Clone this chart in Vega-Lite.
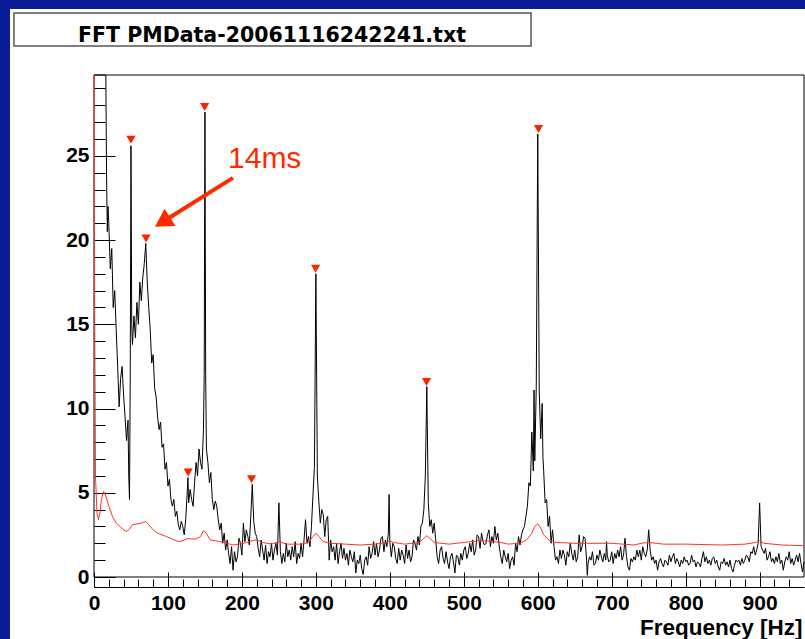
{
  "$schema": "https://vega.github.io/schema/vega-lite/v6.json",
  "width": 795,
  "height": 630,
  "autosize": "none",
  "padding": {"left": 10, "top": 9, "right": 0, "bottom": 0},
  "background": "#0b1c96",
  "view": {"fill": "white", "stroke": null},
  "config": {
    "axis": {"labelFont": "Liberation Sans", "labelFontWeight": "bold", "labelFontSize": 21, "labelColor": "black", "tickColor": "black", "domainColor": "black", "grid": false, "tickWidth": 1, "domainWidth": 1}
  },
  "datasets": {
    "spectrum": [
      {"f":0,"a":29.8},{"f":2,"a":29.8},{"f":4,"a":29.8},{"f":6,"a":29.8},{"f":8,"a":29.8},{"f":10,"a":29.8},{"f":12,"a":29.8},{"f":14,"a":29.8},{"f":16,"a":29.8},{"f":17,"a":23.8},{"f":18,"a":20.5},{"f":19,"a":22},{"f":20,"a":21},{"f":22,"a":18.3},{"f":24,"a":19.5},{"f":26,"a":16},{"f":28,"a":17},{"f":30,"a":14.7},{"f":32,"a":12.5},{"f":34,"a":10.1},{"f":36,"a":11.8},{"f":38,"a":12.5},{"f":40,"a":10.8},{"f":42,"a":9.5},{"f":44,"a":8.1},{"f":46,"a":9.3},{"f":47,"a":6},{"f":48,"a":4.6},{"f":49,"a":12},{"f":50,"a":25.6},{"f":51,"a":15},{"f":52,"a":13.8},{"f":54,"a":15.5},{"f":56,"a":14.2},{"f":58,"a":16.3},{"f":60,"a":15},{"f":62,"a":17.5},{"f":64,"a":16.4},{"f":66,"a":17.8},{"f":68,"a":18.6},{"f":70,"a":19.8},{"f":72,"a":17.5},{"f":74,"a":16},{"f":76,"a":14.7},{"f":78,"a":12.7},{"f":80,"a":13.2},{"f":82,"a":11.2},{"f":84,"a":10.7},{"f":86,"a":9.5},{"f":88,"a":8.75},{"f":90,"a":9.2},{"f":92,"a":7.7},{"f":94,"a":7.9},{"f":96,"a":6.4},{"f":98,"a":6.8},{"f":100,"a":5.4},{"f":102,"a":5.8},{"f":104,"a":4.6},{"f":106,"a":4.2},{"f":108,"a":4.6},{"f":110,"a":3.6},{"f":112,"a":3.9},{"f":114,"a":3.1},{"f":116,"a":2.8},{"f":118,"a":3.3},{"f":120,"a":3.0},{"f":122,"a":2.5},{"f":124,"a":3.4},{"f":126,"a":5.0},{"f":127,"a":5.9},{"f":128,"a":4.4},{"f":130,"a":5.2},{"f":132,"a":4.6},{"f":134,"a":4.2},{"f":136,"a":5.6},{"f":138,"a":6.8},{"f":140,"a":6.0},{"f":142,"a":7.6},{"f":144,"a":6.8},{"f":146,"a":6.4},{"f":148,"a":8.75},{"f":149,"a":12},{"f":150,"a":27.6},{"f":151,"a":12},{"f":152,"a":7.6},{"f":154,"a":6.8},{"f":156,"a":5.6},{"f":158,"a":6.2},{"f":160,"a":4.6},{"f":162,"a":4.0},{"f":164,"a":4.5},{"f":166,"a":4.2},{"f":168,"a":3.4},{"f":170,"a":2.8},{"f":172,"a":3.2},{"f":174,"a":2.0},{"f":176,"a":2.6},{"f":178,"a":1.6},{"f":180,"a":2.2},{"f":182,"a":1.4},{"f":184,"a":0.8},{"f":186,"a":1.8},{"f":188,"a":0.4},{"f":190,"a":1.5},{"f":192,"a":0.9},{"f":194,"a":1.2},{"f":196,"a":2.3},{"f":198,"a":2.0},{"f":200,"a":1.3},{"f":202,"a":3.2},{"f":204,"a":2.1},{"f":206,"a":2.8},{"f":208,"a":2.4},{"f":210,"a":1.9},{"f":212,"a":3.6},{"f":214,"a":5.5},{"f":216,"a":3.3},{"f":218,"a":2.6},{"f":220,"a":2.4},{"f":222,"a":1.7},{"f":224,"a":1.2},{"f":226,"a":2.2},{"f":228,"a":1.6},{"f":230,"a":1.0},{"f":232,"a":1.9},{"f":234,"a":0.8},{"f":236,"a":1.5},{"f":238,"a":1.2},{"f":240,"a":2.0},{"f":242,"a":1.0},{"f":244,"a":1.6},{"f":246,"a":2.0},{"f":248,"a":1.3},{"f":250,"a":4.4},{"f":252,"a":1.5},{"f":254,"a":0.8},{"f":256,"a":1.4},{"f":258,"a":0.9},{"f":260,"a":2.0},{"f":262,"a":1.2},{"f":264,"a":1.6},{"f":266,"a":1.0},{"f":268,"a":1.8},{"f":270,"a":1.2},{"f":272,"a":2.1},{"f":274,"a":0.8},{"f":276,"a":1.4},{"f":278,"a":1.1},{"f":280,"a":2.0},{"f":282,"a":1.2},{"f":284,"a":2.2},{"f":286,"a":3.4},{"f":288,"a":2.0},{"f":290,"a":2.4},{"f":292,"a":1.8},{"f":294,"a":3.0},{"f":296,"a":4.8},{"f":298,"a":6.5},{"f":300,"a":18.0},{"f":302,"a":6.0},{"f":304,"a":4.5},{"f":306,"a":3.2},{"f":308,"a":4.0},{"f":310,"a":3.7},{"f":312,"a":2.4},{"f":314,"a":3.4},{"f":316,"a":3.6},{"f":318,"a":1.0},{"f":320,"a":2.2},{"f":322,"a":1.5},{"f":324,"a":1.8},{"f":326,"a":1.0},{"f":328,"a":2.0},{"f":330,"a":0.8},{"f":332,"a":1.5},{"f":334,"a":2.0},{"f":336,"a":1.1},{"f":338,"a":1.7},{"f":340,"a":1.0},{"f":342,"a":1.4},{"f":344,"a":0.7},{"f":346,"a":1.6},{"f":348,"a":1.2},{"f":350,"a":0.9},{"f":352,"a":1.5},{"f":354,"a":0.24},{"f":356,"a":1.0},{"f":358,"a":0.8},{"f":360,"a":1.3},{"f":362,"a":0.5},{"f":364,"a":0.15},{"f":366,"a":1.0},{"f":368,"a":1.2},{"f":370,"a":0.7},{"f":372,"a":1.8},{"f":374,"a":1.1},{"f":376,"a":1.4},{"f":378,"a":2.1},{"f":380,"a":1.3},{"f":382,"a":2.0},{"f":384,"a":1.2},{"f":386,"a":1.6},{"f":388,"a":2.3},{"f":390,"a":2.4},{"f":392,"a":1.5},{"f":394,"a":2.2},{"f":396,"a":1.8},{"f":398,"a":2.6},{"f":399,"a":4.9},{"f":400,"a":2.1},{"f":402,"a":1.2},{"f":404,"a":2.0},{"f":406,"a":1.8},{"f":408,"a":1.1},{"f":410,"a":0.8},{"f":412,"a":1.7},{"f":414,"a":1.0},{"f":416,"a":1.6},{"f":418,"a":1.3},{"f":420,"a":0.8},{"f":422,"a":1.9},{"f":424,"a":1.1},{"f":426,"a":1.6},{"f":428,"a":0.9},{"f":430,"a":1.2},{"f":432,"a":2.2},{"f":434,"a":2.0},{"f":436,"a":1.6},{"f":438,"a":2.4},{"f":440,"a":1.9},{"f":442,"a":3.0},{"f":444,"a":3.2},{"f":446,"a":4.0},{"f":448,"a":6.0},{"f":450,"a":11.3},{"f":452,"a":4.4},{"f":454,"a":3.0},{"f":456,"a":3.4},{"f":458,"a":2.6},{"f":460,"a":3.2},{"f":462,"a":2.2},{"f":464,"a":1.2},{"f":466,"a":0.8},{"f":468,"a":1.6},{"f":470,"a":1.8},{"f":472,"a":1.1},{"f":474,"a":0.8},{"f":476,"a":1.5},{"f":478,"a":0.9},{"f":480,"a":0.5},{"f":482,"a":1.2},{"f":484,"a":1.4},{"f":486,"a":0.9},{"f":488,"a":0.24},{"f":490,"a":1.3},{"f":492,"a":1.2},{"f":494,"a":0.7},{"f":496,"a":1.4},{"f":498,"a":1.0},{"f":500,"a":1.6},{"f":502,"a":1.8},{"f":504,"a":1.1},{"f":506,"a":1.4},{"f":508,"a":2.0},{"f":510,"a":1.5},{"f":512,"a":2.2},{"f":514,"a":1.3},{"f":516,"a":1.6},{"f":518,"a":2.5},{"f":520,"a":2.4},{"f":522,"a":1.7},{"f":524,"a":2.6},{"f":526,"a":2.1},{"f":528,"a":1.9},{"f":530,"a":2.0},{"f":532,"a":2.5},{"f":534,"a":2.8},{"f":536,"a":1.8},{"f":538,"a":2.4},{"f":540,"a":2.0},{"f":542,"a":3.0},{"f":544,"a":2.2},{"f":546,"a":2.6},{"f":548,"a":1.8},{"f":550,"a":1.2},{"f":552,"a":0.8},{"f":554,"a":1.6},{"f":556,"a":1.2},{"f":558,"a":0.9},{"f":560,"a":1.4},{"f":562,"a":0.5},{"f":564,"a":1.0},{"f":566,"a":1.2},{"f":568,"a":0.7},{"f":570,"a":2.0},{"f":572,"a":1.5},{"f":574,"a":2.4},{"f":576,"a":1.9},{"f":578,"a":2.5},{"f":580,"a":2.8},{"f":582,"a":3.0},{"f":584,"a":3.6},{"f":586,"a":4.2},{"f":588,"a":5.6},{"f":590,"a":5.4},{"f":592,"a":8.6},{"f":594,"a":6.3},{"f":595,"a":11.1},{"f":596,"a":6.9},{"f":598,"a":11.3},{"f":600,"a":26.3},{"f":602,"a":11.1},{"f":604,"a":8.2},{"f":606,"a":10.3},{"f":607,"a":7.1},{"f":608,"a":6.3},{"f":610,"a":4.4},{"f":612,"a":4.6},{"f":614,"a":3.0},{"f":616,"a":3.6},{"f":618,"a":2.0},{"f":620,"a":2.8},{"f":622,"a":1.8},{"f":624,"a":1.0},{"f":626,"a":1.2},{"f":628,"a":0.8},{"f":630,"a":1.6},{"f":632,"a":1.1},{"f":634,"a":1.6},{"f":636,"a":1.3},{"f":638,"a":0.7},{"f":640,"a":1.5},{"f":642,"a":1.2},{"f":644,"a":2.0},{"f":646,"a":1.4},{"f":648,"a":1.0},{"f":650,"a":1.6},{"f":652,"a":0.9},{"f":654,"a":1.2},{"f":656,"a":2.5},{"f":658,"a":1.5},{"f":660,"a":1.8},{"f":662,"a":2.4},{"f":664,"a":2.3},{"f":666,"a":1.0},{"f":667,"a":0.1},{"f":668,"a":0.8},{"f":670,"a":1.2},{"f":672,"a":1.0},{"f":674,"a":1.5},{"f":676,"a":0.7},{"f":678,"a":0.8},{"f":680,"a":1.3},{"f":682,"a":1.0},{"f":684,"a":1.6},{"f":686,"a":1.2},{"f":688,"a":0.9},{"f":690,"a":1.4},{"f":692,"a":1.0},{"f":693,"a":2.1},{"f":694,"a":1.3},{"f":696,"a":0.9},{"f":698,"a":1.0},{"f":700,"a":1.5},{"f":702,"a":0.8},{"f":704,"a":1.4},{"f":706,"a":1.1},{"f":708,"a":1.6},{"f":710,"a":1.2},{"f":712,"a":1.8},{"f":714,"a":1.0},{"f":716,"a":1.3},{"f":718,"a":2.3},{"f":720,"a":1.2},{"f":722,"a":0.6},{"f":724,"a":0.4},{"f":726,"a":1.1},{"f":728,"a":0.9},{"f":730,"a":1.2},{"f":732,"a":1.0},{"f":734,"a":1.6},{"f":736,"a":1.2},{"f":738,"a":1.6},{"f":740,"a":1.0},{"f":742,"a":1.8},{"f":744,"a":1.4},{"f":746,"a":1.2},{"f":748,"a":1.6},{"f":750,"a":2.8},{"f":752,"a":1.6},{"f":754,"a":1.0},{"f":756,"a":1.2},{"f":758,"a":0.8},{"f":760,"a":1.0},{"f":762,"a":0.4},{"f":764,"a":0.9},{"f":766,"a":1.1},{"f":768,"a":0.8},{"f":770,"a":0.6},{"f":772,"a":1.0},{"f":774,"a":0.9},{"f":776,"a":0.7},{"f":778,"a":1.3},{"f":780,"a":0.9},{"f":782,"a":1.2},{"f":784,"a":1.4},{"f":786,"a":0.8},{"f":788,"a":1.1},{"f":790,"a":0.9},{"f":792,"a":0.6},{"f":794,"a":1.0},{"f":796,"a":0.8},{"f":798,"a":1.2},{"f":800,"a":0.9},{"f":802,"a":1.0},{"f":804,"a":0.7},{"f":806,"a":0.8},{"f":808,"a":1.3},{"f":810,"a":0.9},{"f":812,"a":1.0},{"f":814,"a":0.6},{"f":816,"a":0.9},{"f":818,"a":0.8},{"f":820,"a":0.6},{"f":822,"a":1.1},{"f":824,"a":1.5},{"f":826,"a":0.9},{"f":828,"a":1.2},{"f":830,"a":0.8},{"f":832,"a":1.0},{"f":834,"a":0.7},{"f":836,"a":1.1},{"f":838,"a":1.2},{"f":840,"a":0.8},{"f":842,"a":1.0},{"f":844,"a":0.6},{"f":846,"a":0.4},{"f":848,"a":0.9},{"f":850,"a":0.8},{"f":852,"a":1.1},{"f":854,"a":0.7},{"f":856,"a":0.9},{"f":858,"a":0.6},{"f":860,"a":1.0},{"f":862,"a":0.5},{"f":864,"a":0.3},{"f":866,"a":0.7},{"f":868,"a":1.0},{"f":870,"a":0.9},{"f":872,"a":1.0},{"f":874,"a":0.7},{"f":876,"a":1.1},{"f":878,"a":0.8},{"f":880,"a":1.0},{"f":882,"a":1.3},{"f":884,"a":1.2},{"f":886,"a":0.9},{"f":888,"a":1.5},{"f":890,"a":1.4},{"f":892,"a":1.8},{"f":894,"a":1.3},{"f":896,"a":1.6},{"f":898,"a":2.0},{"f":900,"a":4.4},{"f":902,"a":1.8},{"f":904,"a":1.6},{"f":906,"a":1.4},{"f":908,"a":1.7},{"f":910,"a":1.0},{"f":912,"a":1.2},{"f":914,"a":1.5},{"f":916,"a":0.9},{"f":918,"a":1.1},{"f":920,"a":0.8},{"f":922,"a":1.2},{"f":924,"a":0.9},{"f":926,"a":1.4},{"f":928,"a":0.8},{"f":930,"a":1.0},{"f":932,"a":0.4},{"f":934,"a":0.9},{"f":936,"a":1.2},{"f":938,"a":1.0},{"f":940,"a":1.5},{"f":942,"a":0.8},{"f":944,"a":1.1},{"f":946,"a":0.7},{"f":948,"a":1.0},{"f":950,"a":1.3},{"f":952,"a":0.9},{"f":954,"a":1.4},{"f":956,"a":0.8},{"f":958,"a":0.3},{"f":960,"a":0.9}
    ],
    "background": [
      {"f":0,"a":29.8},{"f":1,"a":15},{"f":2,"a":6},{"f":4,"a":3.8},{"f":6,"a":3.4},{"f":8,"a":3.8},{"f":10,"a":4.6},{"f":13,"a":5.08},{"f":16,"a":4.8},{"f":20,"a":4.2},{"f":25,"a":3.6},{"f":30,"a":3.2},{"f":35,"a":3.0},{"f":40,"a":2.8},{"f":44,"a":2.7},{"f":48,"a":2.85},{"f":52,"a":3.1},{"f":58,"a":3.15},{"f":64,"a":3.2},{"f":70,"a":3.3},{"f":74,"a":3.1},{"f":80,"a":2.8},{"f":86,"a":2.6},{"f":92,"a":2.5},{"f":98,"a":2.4},{"f":106,"a":2.25},{"f":114,"a":2.1},{"f":120,"a":2.15},{"f":127,"a":2.3},{"f":132,"a":2.25},{"f":138,"a":2.26},{"f":144,"a":2.4},{"f":148,"a":2.75},{"f":152,"a":2.6},{"f":157,"a":2.2},{"f":164,"a":2.15},{"f":170,"a":2.1},{"f":180,"a":2.0},{"f":188,"a":1.9},{"f":196,"a":1.95},{"f":206,"a":2.04},{"f":214,"a":2.15},{"f":220,"a":2.2},{"f":228,"a":2.05},{"f":240,"a":1.95},{"f":250,"a":2.1},{"f":260,"a":1.95},{"f":270,"a":1.95},{"f":280,"a":1.95},{"f":290,"a":2.05},{"f":296,"a":2.4},{"f":300,"a":2.6},{"f":304,"a":2.4},{"f":310,"a":2.1},{"f":320,"a":2.0},{"f":340,"a":1.95},{"f":360,"a":1.9},{"f":380,"a":1.95},{"f":395,"a":2.05},{"f":400,"a":2.15},{"f":405,"a":2.05},{"f":420,"a":1.95},{"f":440,"a":2.05},{"f":446,"a":2.3},{"f":450,"a":2.45},{"f":454,"a":2.3},{"f":460,"a":2.05},{"f":480,"a":1.95},{"f":500,"a":2.05},{"f":520,"a":2.15},{"f":530,"a":2.15},{"f":540,"a":2.1},{"f":550,"a":2.05},{"f":560,"a":1.95},{"f":575,"a":2.0},{"f":585,"a":2.2},{"f":592,"a":2.6},{"f":596,"a":3.0},{"f":600,"a":3.15},{"f":604,"a":2.9},{"f":608,"a":2.5},{"f":615,"a":2.2},{"f":625,"a":2.05},{"f":650,"a":2.0},{"f":700,"a":2.0},{"f":730,"a":1.9},{"f":740,"a":2.0},{"f":750,"a":2.05},{"f":770,"a":1.95},{"f":800,"a":1.95},{"f":850,"a":1.9},{"f":880,"a":1.95},{"f":895,"a":2.05},{"f":900,"a":2.15},{"f":906,"a":2.0},{"f":930,"a":1.9},{"f":960,"a":1.86}
    ],
    "peaks": [
      {"f":50,"a":25.95},{"f":70.3,"a":20.1},{"f":127.4,"a":6.2},{"f":149.6,"a":27.9},{"f":213,"a":5.8},{"f":299.6,"a":18.3},{"f":449.6,"a":11.57},{"f":601,"a":26.6}
    ]
  },
  "resolve": {"axis": {"x": "independent", "y": "independent"}},
  "layer": [
    {
      "data": {"values": [{}]},
      "mark": {"type": "rect", "fill": "white", "stroke": "#555555", "strokeWidth": 1.5},
      "encoding": {
        "x": {"datum": -108.2, "type": "quantitative", "scale": {"domain": [0, 960], "range": [84, 794], "nice": false, "zero": false}, "axis": null},
        "x2": {"datum": 590.9},
        "y": {"datum": 31.52, "type": "quantitative", "scale": {"domain": [0, 29.8], "range": [568, 66], "nice": false, "zero": false}, "axis": null},
        "y2": {"datum": 33.48}
      }
    },
    {
      "data": {"values": [{}]},
      "mark": {"type": "text", "text": "FFT PMData-20061116242241.txt", "font": "DejaVu Sans", "fontWeight": "bold", "fontSize": 20.5, "align": "center", "baseline": "alphabetic", "color": "black"},
      "encoding": {
        "x": {"datum": 240.7, "type": "quantitative", "axis": null},
        "y": {"datum": 31.76, "type": "quantitative", "axis": null}
      }
    },
    {
      "data": {"values": [{}]},
      "mark": {"type": "rect", "fill": "transparent", "stroke": "black", "strokeWidth": 1},
      "encoding": {
        "x": {"datum": 0, "type": "quantitative", "axis": null},
        "x2": {"datum": 960},
        "y": {"datum": 0, "type": "quantitative", "axis": null},
        "y2": {"datum": 29.8}
      }
    },
    {
      "data": {"name": "spectrum"},
      "mark": {"type": "line", "color": "black", "strokeWidth": 1},
      "encoding": {
        "x": {"field": "f", "type": "quantitative", "axis": {"orient": "bottom", "offset": -52, "values": [0,100,200,300,400,500,600,700,800,900], "tickSize": -15, "labelPadding": 20.5, "domain": false, "title": "Frequency [Hz]", "titleFont": "Liberation Sans", "titleFontSize": 22.5, "titleFontWeight": "bold", "titleColor": "black", "titleX": 792, "titleY": 47, "titleAlign": "right", "titleAnchor": null, "titleBaseline": "alphabetic", "labelFlush": false, "labelOverlap": false}},
        "y": {"field": "a", "type": "quantitative", "axis": {"orient": "left", "offset": -84, "values": [0,5,10,15,20,25], "tickSize": -21, "labelPadding": 26, "domain": false, "title": null, "labelOverlap": false}}
      }
    },
    {
      "data": {"name": "background"},
      "mark": {"type": "line", "color": "#ff3322", "strokeWidth": 1},
      "encoding": {
        "x": {"field": "f", "type": "quantitative", "axis": {"orient": "bottom", "offset": -52, "values": [0,20,40,60,80,100,120,140,160,180,200,220,240,260,280,300,320,340,360,380,400,420,440,460,480,500,520,540,560,580,600,620,640,660,680,700,720,740,760,780,800,820,840,860,880,900,920,940], "tickSize": -8, "labels": false, "domain": true, "title": null}},
        "y": {"field": "a", "type": "quantitative", "axis": {"orient": "left", "offset": -84, "values": [0,1,2,3,4,5,6,7,8,9,10,11,12,13,14,15,16,17,18,19,20,21,22,23,24,25,26,27,28,29], "tickSize": -11, "labels": false, "domain": false, "title": null}}
      }
    },
    {
      "data": {"name": "peaks"},
      "mark": {"type": "point", "shape": "triangle-down", "filled": true, "size": 85, "color": "#ff2200", "opacity": 1},
      "encoding": {
        "x": {"field": "f", "type": "quantitative", "axis": null},
        "y": {"field": "a", "type": "quantitative", "axis": null}
      }
    },
    {
      "data": {"values": [{}]},
      "mark": {"type": "rule", "color": "#ff2a00", "strokeWidth": 4},
      "encoding": {
        "x": {"datum": 187.9, "type": "quantitative", "axis": null},
        "y": {"datum": 23.69, "type": "quantitative", "axis": null},
        "x2": {"datum": 92.6},
        "y2": {"datum": 21.07}
      }
    },
    {
      "data": {"values": [{}]},
      "mark": {"type": "point", "shape": "triangle-up", "filled": true, "size": 420, "angle": 238, "color": "#ff2a00", "opacity": 1},
      "encoding": {
        "x": {"datum": 92.6, "type": "quantitative", "axis": null},
        "y": {"datum": 21.07, "type": "quantitative", "axis": null}
      }
    },
    {
      "data": {"values": [{}]},
      "mark": {"type": "text", "text": "14ms", "font": "Liberation Sans", "fontSize": 30, "align": "left", "baseline": "alphabetic", "color": "#ff2a00"},
      "encoding": {
        "x": {"datum": 181.2, "type": "quantitative", "axis": null},
        "y": {"datum": 24.28, "type": "quantitative", "axis": null}
      }
    }
  ]
}
